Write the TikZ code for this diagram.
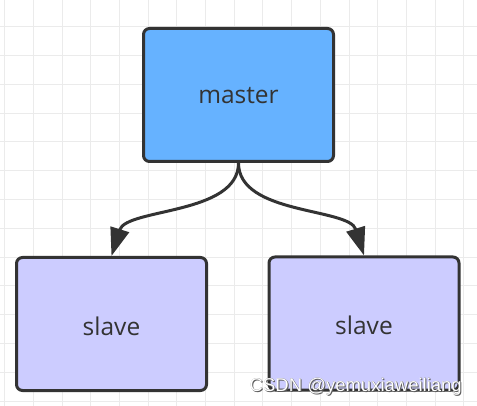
\documentclass[tikz,border=0pt]{standalone}
\usepackage{fontspec}
\setmainfont{Open Sans}
\newfontfamily\wmfont{Liberation Sans}
\usetikzlibrary{arrows.meta}
\definecolor{gridc}{HTML}{EBEBEB}
\definecolor{edgec}{HTML}{333333}
\definecolor{masterc}{HTML}{66B2FF}
\definecolor{slavec}{HTML}{CCCCFF}
\definecolor{wmshade}{HTML}{5A5A5A}
\tikzset{
  gridline/.style={gridc, line width=1pt},
  box/.style={draw=edgec, line width=3pt, rounded corners=6pt,
    minimum width=190pt, minimum height=133pt, inner sep=0pt,
    text=edgec, font=\fontsize{24.5}{28}\selectfont},
  masterbox/.style={box, fill=masterc},
  slavebox/.style={box, fill=slavec},
  link/.style={draw=edgec, line width=3pt,
    -{Triangle[length=28pt,width=19pt]}},
  wmshadow/.style={text=wmshade, font=\wmfont\fontsize{18.5}{20}\selectfont, anchor=base east, inner sep=0pt},
  wmtext/.style={text=white, font=\wmfont\fontsize{18.5}{20}\selectfont, anchor=base east, inner sep=0pt}
}
\begin{document}
\begin{tikzpicture}[x=1pt,y=-1pt]
\useasboundingbox (0,0) rectangle (477,406);
\fill[white] (0,0) rectangle (477,406);
% grid
\foreach \k in {0,...,16} {
  \draw[gridline] ({4.6+28.71*\k},0) -- ({4.6+28.71*\k},406);
}
\foreach \k in {1,...,14} {
  \draw[gridline] (0,{-2.1+28.8*\k}) -- (477,{-2.1+28.8*\k});
}
% nodes
\node[masterbox] (m) at (238.5,95) {\raisebox{0pt}[\dimexpr\height+1pt][\depth]{master}};
\node[slavebox] (s1) at (111.5,324) {\raisebox{0pt}[\dimexpr\height+4pt][\depth]{slave}};
\node[slavebox] (s2) at (364,323.5) {\raisebox{0pt}[\dimexpr\height+4pt][\depth]{slave}};
% connectors
\draw[link] (m.south) .. controls ++(0,52) and ([shift={(15,-48)}]s1.north) .. (s1.north);
\draw[link] (m.south) .. controls ++(0,52) and ([shift={(-15,-48)}]s2.north) .. (s2.north);
% watermark
\node[wmshadow] (wa) at (463,392) {CSDN @yemuxiaweiliang};
\node[wmshadow] (wb) at (462.2,391.2) {CSDN @yemuxiaweiliang};
\node[wmtext] (wc) at (462,391) {CSDN @yemuxiaweiliang};
\end{tikzpicture}
\end{document}
